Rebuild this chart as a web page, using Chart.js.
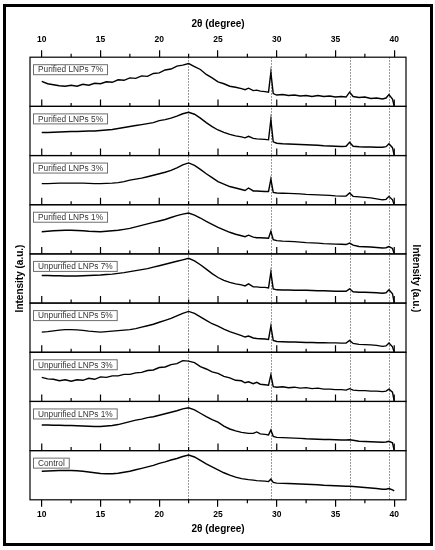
<!DOCTYPE html>
<html>
<head>
<meta charset="utf-8">
<script src="https://cdn.jsdelivr.net/npm/chart.js@4.4.1/dist/chart.umd.min.js"></script>
<style>
  html, body { margin: 0; padding: 0; background: #fff; }
</style>
</head>
<body>
<canvas id="xrd" width="435" height="550"></canvas>
<script>
/* ===========================================
   DATA
=========================================== */
const angles = [10, 10.5, 11, 11.5, 12, 12.5, 13, 13.5, 14, 14.5,
    15, 15.5, 16, 16.5, 17, 17.5, 18, 18.5, 19, 19.5,
    20, 20.5, 21, 21.5, 22, 22.5, 23, 23.5, 24, 24.5,
    25, 25.5, 26, 26.5, 27,
    27.3, 27.6, 28, 28.3, 28.6, 29, 29.3, 29.5, 29.7, 30,
    30.5, 31, 31.5, 32, 32.5, 33, 33.5, 34, 34.5, 35,
    35.5, 35.9, 36.2, 36.5, 37, 37.5, 38, 38.5, 39, 39.3,
    39.55, 39.85, 40];

const sampleNames = ["Purified LNPs 7%", "Purified LNPs 5%", "Purified LNPs 3%", "Purified LNPs 1%",
    "Unpurified LNPs 7%", "Unpurified LNPs 5%", "Unpurified LNPs 3%", "Unpurified LNPs 1%", "Control"];

// intensity, in % of each panel height
const purified7 = [51, 46, 44, 42, 41, 43, 41, 45, 43, 47,
    46, 50, 49, 54, 53, 58, 57, 62, 61, 67, 68, 74, 76, 82, 84, 87, 81, 75, 65, 58,
    50, 46, 41, 39, 36,
    34, 37, 32, 33, 31, 30, 29, 69, 26, 23, 24, 22, 23, 21, 22, 20, 22, 20, 21, 19,
    20, 19, 29, 20, 18, 19, 16, 17, 15, 17, 24, 15, 0];
const purified5 = [47, 47, 47.5, 48, 48.5, 49, 49, 49.5, 50, 50,
    51, 52, 53, 55, 57, 59, 61, 63, 65, 67, 71, 73, 76, 80, 85, 88, 84, 76, 67, 59,
    52, 47, 43, 40, 38,
    36, 39, 35, 34, 33.5, 33, 32, 73, 28, 25, 24, 23.5, 23, 22.5, 22, 21.5, 21, 20, 19.5, 19,
    18.5, 19, 27, 19, 18, 17.5, 17.5, 17, 17, 18, 24, 16, 0];
const purified3 = [43, 43, 43.5, 44, 44, 44, 44, 44, 43.5, 43,
    43, 43.5, 44, 45, 47, 50, 52, 54, 57, 60, 63, 66, 70, 75, 81, 85, 80, 72, 63, 55,
    47, 42, 37, 34, 31,
    29, 34, 28, 28, 27.5, 27, 27, 52, 25, 24, 23.5, 23, 22.5, 22, 21, 20.5, 20, 19.5, 19, 18,
    17.5, 17.5, 24, 17, 16, 15, 14, 12, 10, 11, 17, 10, 0];
const purified1 = [45, 46, 47, 47.5, 48, 48, 47.5, 47, 46, 45.5,
    45, 46, 47, 48, 50, 52, 55, 58, 61, 64, 67, 70, 74, 78, 81, 83, 79, 73, 66, 60,
    54, 49, 44, 40, 37,
    35, 38, 34, 33, 33, 32.5, 32, 46, 29, 27, 26, 25.5, 25, 24, 23, 22.5, 22, 21, 20.5, 20,
    19.5, 19, 22, 18, 15, 14.5, 14, 13, 12, 12.5, 15, 11, 0];
const unpurified7 = [56, 56, 55.5, 55.5, 55, 55, 55, 55.5, 56, 56.5,
    57, 58, 59, 60.5, 62, 64, 66, 68, 70, 73, 76, 79, 82, 85, 88, 91, 86, 78, 69, 60,
    52, 46, 42, 39, 37,
    35, 39, 33, 33, 32, 32, 31, 63, 29, 27, 26.5, 26.5, 26, 26, 26, 25.5, 25, 25, 24.5, 24,
    24, 24, 29, 23, 22, 22, 21.5, 21, 20, 21, 27, 19, 0];
const unpurified5 = [41, 42, 43.5, 45, 46, 46, 45.5, 44.5, 43, 42,
    41, 42, 43, 44, 45, 46, 48, 51, 54, 57, 61, 65, 69, 74, 79, 83, 79, 72, 65, 58,
    53, 47, 42, 38, 34,
    31, 33, 29, 28, 27.5, 27, 26, 53, 24, 22, 21.5, 21, 21, 20.5, 20, 20, 19.5, 19.5, 19, 19,
    18.5, 18.5, 24, 18, 16, 15.5, 15, 14, 12, 13, 19, 11, 0];
const unpurified3 = [49, 46, 45, 42, 44, 41, 44, 43, 47, 45,
    50, 49, 52, 52, 55, 55, 58, 59, 63, 64, 69, 70, 75, 77, 83, 82, 79, 71, 66, 60,
    57, 51, 48, 43, 42,
    38, 40, 36, 39, 35, 34, 33, 54, 30, 29, 30, 28, 29, 27, 28, 26, 27, 25, 25, 24,
    24, 23, 26, 23, 22, 22, 21, 21, 20, 21, 25, 19, 0];
const unpurified1 = [52, 52, 51.5, 51.5, 51, 51, 50.5, 50, 49.5, 49,
    49, 50, 51, 53, 56, 59, 62, 64, 67, 69, 72, 75, 78, 81, 85, 87, 83, 76, 69, 63,
    58, 50, 44, 40, 37,
    36, 35, 35, 38, 34, 33, 32, 42, 29, 27, 26.5, 26, 25.5, 25, 24, 23.5, 23, 22.5, 22.5, 22,
    21.5, 21.5, 22, 21, 19, 18.5, 18, 17.5, 17, 17.5, 19, 16, 0];
const control = [58, 58.5, 59, 59.5, 59.5, 59.5, 59, 58, 56.5, 55,
    53.5, 53, 53, 54, 56, 58, 61, 64, 67, 70, 74, 77, 81, 84, 88, 91, 87, 80, 73, 67,
    61, 55, 50, 46, 43,
    42, 41, 40, 39, 38.5, 38, 37, 42, 35.5, 34, 33.5, 33, 32.5, 32, 31.5, 31, 30.5, 29.5, 29, 28.5,
    28, 27.5, 27.5, 27, 26, 25, 24, 23, 21.5, 21.5, 23, 20, 18];

const series = [purified7, purified5, purified3, purified1,
    unpurified7, unpurified5, unpurified3, unpurified1, control];

const majorTicks = [10, 15, 20, 25, 30, 35, 40];
const minorTicks = [12.5, 17.5, 22.5, 27.5, 32.5, 37.5];
const peakLines = [22.45, 29.55, 36.2, 39.55];

const panelIds = sampleNames.map((n, i) => "p" + i);

/* ===========================================
   FONTS
=========================================== */
const FAMILY = "'Liberation Sans', Arial, sans-serif";
const tickFont = { family: FAMILY, size: 8.5, weight: "bold" };
const titleFont = { family: FAMILY, size: 10, weight: "bold" };

/* ===========================================
   PANEL FRAMES, TICKS, LABELS
=========================================== */
const panelDecor = {
    id: "panelDecor",
    beforeDatasetsDraw(chart) {
        const { ctx, chartArea, scales } = chart;
        ctx.save();
        ctx.strokeStyle = "#7a7a7a";
        ctx.lineWidth = 1;
        ctx.setLineDash([1.5, 1.5]);
        peakLines.forEach(v => {
            const px = Math.round(scales.x.getPixelForValue(v)) + 0.5;
            ctx.beginPath();
            ctx.moveTo(px, chartArea.top);
            ctx.lineTo(px, chartArea.bottom);
            ctx.stroke();
        });
        ctx.restore();
    },
    afterDatasetsDraw(chart) {
        const { ctx, chartArea, scales } = chart;
        const xs = scales.x;
        ctx.save();
        ctx.strokeStyle = "#000";
        ctx.lineWidth = 1.2;

        panelIds.forEach((id, i) => {
            const s = scales[id];
            ctx.strokeRect(chartArea.left, s.top, chartArea.right - chartArea.left, s.bottom - s.top);

            if (i < panelIds.length - 1) {
                ctx.beginPath();
                majorTicks.forEach(v => {
                    const px = xs.getPixelForValue(v);
                    ctx.moveTo(px, s.bottom);
                    ctx.lineTo(px, s.bottom - 7);
                });
                minorTicks.forEach(v => {
                    const px = xs.getPixelForValue(v);
                    ctx.moveTo(px, s.bottom);
                    ctx.lineTo(px, s.bottom - 3.5);
                });
                ctx.stroke();
            }

            // sample label in a box
            const label = chart.data.datasets[i].label;
            ctx.font = "8.3px " + FAMILY;
            const tw = ctx.measureText(label).width;
            const bx = chartArea.left + 3.5;
            const by = s.top + 7.5;
            ctx.fillStyle = "#fff";
            ctx.fillRect(bx, by, tw + 9, 10);
            ctx.lineWidth = 1;
            ctx.strokeStyle = "#6e6e6e";
            ctx.strokeRect(bx, by, tw + 9, 10);
            ctx.fillStyle = "#333";
            ctx.textBaseline = "middle";
            ctx.fillText(label, bx + 4.5, by + 5.5);
            ctx.strokeStyle = "#000";
            ctx.lineWidth = 1.2;
        });

        // minor ticks on the outer axes
        ctx.beginPath();
        minorTicks.forEach(v => {
            const px = xs.getPixelForValue(v);
            ctx.moveTo(px, chartArea.top);
            ctx.lineTo(px, chartArea.top - 3.5);
            ctx.moveTo(px, chartArea.bottom);
            ctx.lineTo(px, chartArea.bottom + 3.5);
        });
        ctx.stroke();

        // outer frame
        ctx.lineWidth = 3;
        ctx.strokeRect(4.5, 5.5, 427, 539);
        ctx.restore();
    }
};

/* ===========================================
   SCALES
=========================================== */
function xAxis(position) {
    const top = position === "top";
    return {
        type: "linear",
        position: position,
        min: 9,
        max: 41,
        afterBuildTicks: s => { s.ticks = majorTicks.map(v => ({ value: v })); },
        grid: { display: true, drawOnChartArea: false, drawTicks: true, tickLength: 7, color: "#000", lineWidth: 1.2 },
        border: { display: false },
        ticks: { font: tickFont, color: "#000", padding: top ? 5 : 3, maxRotation: 0, autoSkip: false },
        title: {
            display: true, text: "2θ (degree)", font: titleFont, color: "#000",
            padding: top ? { top: 4, bottom: 0 } : { top: 0, bottom: 4 }
        }
    };
}

function sideAxis(position) {
    return {
        type: "linear",
        position: position,
        weight: 1,
        ticks: { display: false },
        grid: { display: false, drawTicks: false },
        border: { display: false },
        title: { display: true, text: "Intensity (a.u.)", font: titleFont, color: "#000", padding: 4 }
    };
}

const scales = {
    x: xAxis("bottom"),
    xTop: xAxis("top"),
    yL: sideAxis("left"),
    yR: sideAxis("right")
};

// the last declared axis of the stack is placed on top
for (let i = panelIds.length - 1; i >= 0; i--) {
    scales[panelIds[i]] = {
        type: "linear",
        position: "left",
        stack: "panels",
        stackWeight: 1,
        weight: 0,
        min: 0,
        max: 100,
        ticks: { display: false },
        grid: { display: false, drawTicks: false },
        border: { display: false }
    };
}

/* ===========================================
   CHART
=========================================== */
new Chart(document.getElementById("xrd"), {
    type: "line",
    data: {
        labels: angles,
        datasets: series.map((vals, i) => ({
            label: sampleNames[i],
            data: vals.map((v, k) => ({ x: angles[k], y: v })),
            xAxisID: "x",
            yAxisID: panelIds[i],
            borderColor: "#000",
            borderWidth: 1.4,
            pointRadius: 0,
            tension: 0,
            fill: false
        }))
    },
    options: {
        responsive: false,
        animation: false,
        parsing: false,
        layout: { padding: { top: 14, bottom: 11, left: 10, right: 9 } },
        plugins: { legend: { display: false }, tooltip: { enabled: false } },
        scales: scales
    },
    plugins: [panelDecor]
});
</script>
</body>
</html>
